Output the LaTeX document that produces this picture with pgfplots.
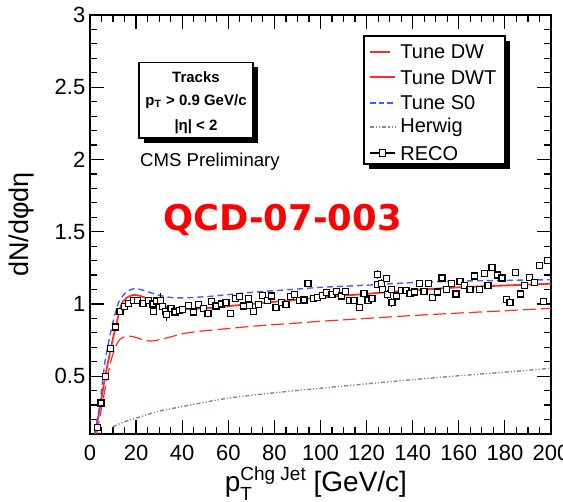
\documentclass[border=0pt]{standalone}
\usepackage{fontspec}
\setmainfont{Liberation Sans}
\newfontfamily\qcdfont{DejaVu Sans}
\usepackage{graphicx}
\usepackage{pgfplots}
\pgfplotsset{compat=1.18}
\definecolor{dwred}{RGB}{255,45,35}
\definecolor{s0blue}{RGB}{70,90,255}
\definecolor{hwcol}{RGB}{165,125,110}
\tikzset{
  dwstyle/.style={dwred, line width=0.6pt, dash pattern=on 6.5pt off 2.5pt},
  dwtstyle/.style={dwred, line width=0.9pt},
  s0style/.style={s0blue, line width=0.7pt, dash pattern=on 3pt off 2pt},
  hwstyle/.style={hwcol, line width=0.7pt, dash pattern=on 2pt off 1pt on 0.6pt off 1pt on 0.6pt off 1pt},
}
\begin{document}
\begin{tikzpicture}
\useasboundingbox (-45pt,-34pt) rectangle (236.5pt,217pt);
\begin{axis}[
  at={(0,0)}, anchor=south west,
  scale only axis, width=230.5pt, height=209.5pt,
  xmin=0, xmax=200, ymin=0.1, ymax=3,
  xtick={0,20,...,200}, ytick={0.5,1,1.5,2,2.5,3},
  minor xtick={5,10,15,25,30,35,45,50,55,65,70,75,85,90,95,105,110,115,125,130,135,145,150,155,165,170,175,185,190,195},
  minor ytick={0.2,0.3,0.4,0.6,0.7,0.8,0.9,1.1,1.2,1.3,1.4,1.6,1.7,1.8,1.9,2.1,2.2,2.3,2.4,2.6,2.7,2.8,2.9},
  tick align=inside, major tick length=7pt, minor tick length=3.5pt,
  every tick/.style={black, line width=0.6pt},
  axis line style={line width=0.8pt},
  ticklabel style={font=\fontsize{11}{13}\selectfont},
  xticklabel style={yshift=-2.2pt},
  yticklabel style={xshift=1.2pt},
  /pgf/number format/assume math mode=true,
  xlabel={p\rlap{\raisebox{-0.6ex}{\fontsize{9.5}{10}\selectfont T}}\raisebox{0.8ex}{\fontsize{9.5}{10}\selectfont Chg Jet} [GeV/c]},
  xlabel style={font=\fontsize{14}{16}\selectfont, at={(axis description cs:0.49,0)}, anchor=base, yshift=-29pt},
  ylabel={dN/dφdη},
  ylabel style={font=\fontsize{13.5}{15}\selectfont, at={(axis description cs:-0.1475,0.5)}, anchor=center},
]
% Tune DW (long dashed red)
\addplot[dwstyle, smooth, tension=0.5] coordinates {
(3,0.1) (5,0.28) (7,0.45) (9,0.6) (11,0.7) (13,0.755) (15,0.772) (17,0.778) (20,0.768) (23,0.752) (26,0.743) (30,0.752) (35,0.772) (40,0.793) (45,0.806) (50,0.815) (60,0.83) (70,0.845) (80,0.857) (90,0.868) (100,0.88) (120,0.9) (140,0.92) (160,0.937) (180,0.953) (200,0.97)};
% Tune DWT (solid red)
\addplot[dwtstyle, smooth, tension=0.5] coordinates {
(2.2,0.1) (4.3,0.28) (6.5,0.49) (9.4,0.72) (11.6,0.87) (13.7,1.0) (16.6,1.05) (19.2,1.062) (22,1.055) (25,1.035) (28,1.01) (32,0.985) (36,0.97) (40,0.965) (50,0.97) (60,0.985) (70,1.0) (80,1.015) (90,1.03) (100,1.045) (120,1.07) (140,1.095) (160,1.115) (180,1.128) (200,1.14)};
% Tune S0 (dashed blue)
\addplot[s0style, smooth, tension=0.5] coordinates {
(2.0,0.1) (4.3,0.31) (6.5,0.6) (9.4,0.835) (12.3,1.007) (15,1.07) (17,1.095) (19.5,1.106) (22,1.1) (25,1.085) (30,1.06) (35,1.045) (40,1.042) (50,1.05) (60,1.065) (70,1.08) (80,1.092) (90,1.103) (100,1.115) (120,1.13) (140,1.148) (160,1.158) (180,1.163) (200,1.168)};
% Herwig (dash-dot-dot)
\addplot[hwstyle, smooth, tension=0.5] coordinates {
(10,0.15) (12,0.165) (15,0.185) (20,0.21) (25,0.235) (30,0.258) (40,0.29) (50,0.32) (60,0.348) (70,0.368) (80,0.385) (90,0.402) (100,0.417) (120,0.447) (140,0.476) (160,0.503) (180,0.528) (200,0.555)};
% RECO data
\addplot[black, only marks, mark=square*, mark size=1.5pt, mark options={line width=0.6pt, draw=black, fill=white},
  error bars/.cd, y dir=both, y explicit, error mark=none, error bar style={line width=0.5pt, black}]
  table[x=x, y=y, y error=e] {
x y e
3.3 0.147 0
4.8 0.315 0
6.8 0.50 0
8.8 0.69 0
11 0.84 0
13 0.948 0
14.9 0.985 0
16.6 1.003 0
19 1.025 0
20.7 1.025 0
23 1.003 0
25.3 1.025 0
27.3 1.0 0
27.5 0.95 0
28.8 1.02 0
30.5 1.025 0.05
31.3 0.98 0
32.8 0.95 0
33.2 0.925 0.04
35.1 0.966 0
36.9 0.945 0
38.9 0.957 0
40.2 0.961 0
42.8 0.99 0
44.8 0.945 0
46.9 0.996 0
49.2 0.966 0
51.2 0.936 0
52.6 1.018 0
54.7 0.986 0
56.9 1.0 0
59 1.01 0
61 0.934 0
63 1.037 0
64.8 1.05 0
66.5 0.986 0
68.9 1.037 0
69.2 0.99 0
70.9 0.95 0
73.2 0.996 0
74.9 1.06 0
76.9 1.023 0
78.7 1.055 0
80.7 0.977 0
83 1.01 0
85 0.996 0
87.1 1.05 0
88.8 1.065 0
90.8 1.023 0
92.8 1.028 0
94.6 1.14 0
96.9 1.037 0
98.6 1.046 0
100.7 1.06 0
102.7 1.078 0
105 1.065 0
107 1.087 0
109 1.055 0
111 1.087 0
112.5 1.023 0
114.5 1.023 0
116.8 0.977 0.02
118.9 1.074 0.02
120.6 1.023 0.02
122.3 1.037 0
124.6 1.206 0.03
124.6 1.133 0
126.4 1.14 0.03
127 1.10 0
128.7 1.175 0
129 1.065 0.03
130.7 1.10 0
131 1.01 0.03
133 1.055 0
135 1.092 0
137.1 1.092 0
138.8 1.074 0
140.9 1.083 0
142.9 1.14 0
144.9 1.087 0
147 1.14 0
148.7 1.046 0
150.7 1.083 0
152.7 1.18 0
154.8 1.10 0
157 1.14 0
158.8 1.069 0
160.5 1.156 0
162.5 1.128 0
164.9 1.10 0
166.9 1.193 0
168.9 1.10 0
171 1.21 0
172.7 1.128 0
174.4 1.25 0
176.7 1.20 0
178.7 1.18 0
180.8 1.03 0
182.2 1.01 0
184.5 1.216 0
186.6 1.069 0
188.6 1.128 0
190.6 1.184 0
192.9 1.151 0
194.9 1.266 0
196.7 1.018 0
198.4 1.30 0
};
\end{axis}
% legend box with shadow
\fill[black] (139.5pt,132.5pt) rectangle (210pt,196.5pt);
\draw[black, line width=0.6pt, fill=white] (137pt,135pt) rectangle (207.5pt,199pt);
\begin{scope}[font=\fontsize{10}{12}\selectfont]
\draw[dwred, line width=0.9pt] (140pt,191pt) -- (150pt,191pt);
\node[anchor=west, inner sep=0pt] at (155pt,191.15pt) {Tune DW};
\draw[dwred, line width=1.0pt] (140pt,178.5pt) -- (152.5pt,178.5pt);
\node[anchor=west, inner sep=0pt] at (155pt,178.35pt) {Tune DWT};
\draw[s0blue, line width=0.8pt, dash pattern=on 2.8pt off 1.5pt] (140pt,165.5pt) -- (152.5pt,165.5pt);
\node[anchor=west, inner sep=0pt] at (155pt,165.65pt) {Tune S0};
\draw[hwcol, line width=0.9pt, dash pattern=on 2pt off 1pt on 0.6pt off 1pt on 0.6pt off 1pt] (140pt,153.5pt) -- (152.5pt,153.5pt);
\node[anchor=west, inner sep=0pt] at (155pt,153.35pt) {Herwig};
\draw[black, line width=0.6pt] (140pt,140.5pt) -- (152.5pt,140.5pt);
\draw[black, line width=0.6pt, fill=white] (144.6pt,138.9pt) rectangle (147.9pt,142.1pt);
\node[anchor=west, inner sep=0pt] at (155pt,140.35pt) {RECO};
\end{scope}
% selection box with shadow
\fill[black] (27pt,145.5pt) rectangle (84pt,183.35pt);
\draw[black, line width=0.6pt, fill=white] (24.5pt,148pt) rectangle (81.5pt,185.85pt);
\node[font=\fontsize{7.5}{9}\selectfont\bfseries] at (53pt,178.65pt) {Tracks};
\node[font=\fontsize{7.5}{9}\selectfont\bfseries] at (53pt,166.15pt) {p\textsubscript{T} > 0.9 GeV/c};
\node[font=\fontsize{7.5}{9}\selectfont\bfseries] at (53pt,153.65pt) {|η| < 2};
\node[font=\fontsize{9.3}{11}\selectfont] at (60pt,136.15pt) {CMS Preliminary};
\node[font=\qcdfont\bfseries\fontsize{17.7}{20}\selectfont, text=red] at (96.25pt,107pt) {QCD-07-003};
\end{tikzpicture}
\end{document}
